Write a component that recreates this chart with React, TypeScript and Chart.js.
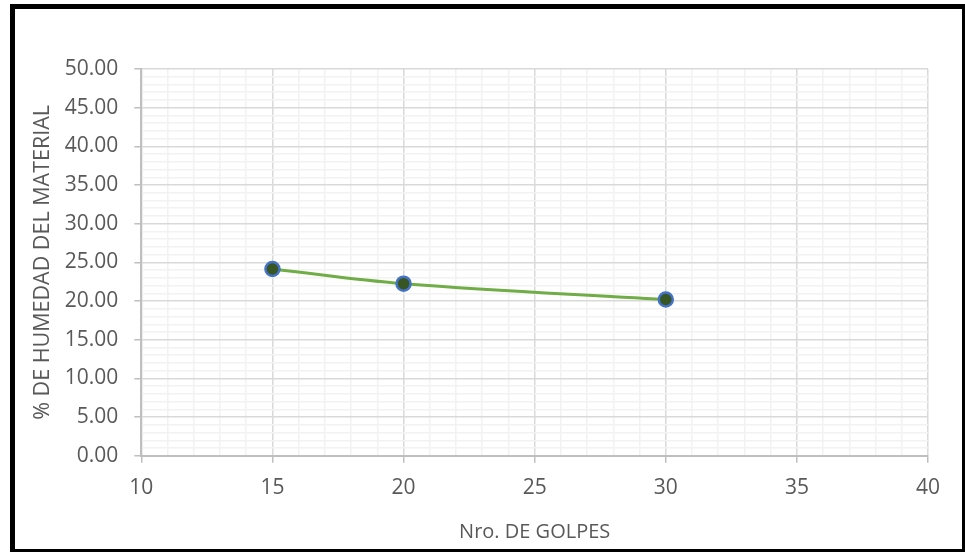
import React, { useEffect, useRef } from "react";
import { Chart, registerables } from "chart.js";

Chart.register(...registerables);

const golpes = [15, 20, 30];
const humedad = [24.15, 22.25, 20.2];
const xMin = 10;
const xMax = 40;
const yMin = 0;
const yMax = 50;
const xTitle = "Nro. DE GOLPES";
const yTitle = "% DE HUMEDAD DEL MATERIAL";

const FONT = "'Open Sans', 'Liberation Sans', sans-serif";
const TEXT = "#595959";

export default function App() {
  const ref = useRef<HTMLCanvasElement | null>(null);
  useEffect(() => {
    if (!ref.current) return;
    const major = (v: number) => Math.abs(v % 5) < 1e-9;
    const chart = new Chart(ref.current, {
      type: "line",
      data: {
        datasets: [
          {
            data: golpes.map((g, i) => ({ x: g, y: humedad[i] })),
            borderColor: "#70AD47",
            borderWidth: 3,
            tension: 0.4,
            pointRadius: 7,
            pointBorderWidth: 2.5,
            pointBackgroundColor: "#375623",
            pointBorderColor: "#4472C4",
            fill: false,
          },
        ],
      },
      options: {
        responsive: false,
        animation: false,
        events: [],
        layout: { padding: { left: 30, right: 37, top: 69, bottom: 8 } },
        plugins: { legend: { display: false }, tooltip: { enabled: false } },
        scales: {
          x: {
            type: "linear",
            min: xMin,
            max: xMax,
            ticks: {
              stepSize: 1,
              autoSkip: false,
              maxRotation: 0,
              padding: 13,
              color: TEXT,
              font: { family: FONT, size: 21 },
              callback: (v: any) => (major(Number(v)) ? String(v) : ""),
            },
            grid: {
              color: (c: any) => (major(c.tick.value) ? "#d9d9d9" : "#f2f2f2"),
              lineWidth: 1.5,
              tickLength: 7,
              tickColor: (c: any) => (major(c.tick.value) ? "#bfbfbf" : "rgba(0,0,0,0)"),
            },
            border: { color: "#bfbfbf", width: 2 },
            title: {
              display: true,
              text: xTitle,
              color: TEXT,
              font: { family: FONT, size: 20 },
              padding: { top: 6, bottom: 0 },
            },
          },
          y: {
            type: "linear",
            min: yMin,
            max: yMax,
            ticks: {
              stepSize: 1,
              autoSkip: false,
              padding: 16,
              color: TEXT,
              font: { family: FONT, size: 21 },
              callback: (v: any) => (major(Number(v)) ? Number(v).toFixed(2) : ""),
            },
            grid: {
              color: (c: any) => (major(c.tick.value) ? "#d9d9d9" : "#f2f2f2"),
              lineWidth: 1.5,
              tickLength: 7,
              tickColor: (c: any) => (major(c.tick.value) ? "#bfbfbf" : "rgba(0,0,0,0)"),
            },
            border: { color: "#bfbfbf", width: 2 },
            title: {
              display: true,
              text: yTitle,
              color: TEXT,
              font: { family: FONT, size: 21.5 },
              padding: { top: 0, bottom: -7 },
            },
          },
        },
      },
    });
    return () => chart.destroy();
  }, []);

  return (
    <div style={{ position: "fixed", left: 0, top: 0, width: 965, height: 552, background: "#fff", overflow: "hidden" }}>
      <canvas ref={ref} width={965} height={552} style={{ position: "absolute", left: 0, top: 0 }} />
      <div
        style={{
          position: "absolute",
          left: 10,
          top: 4,
          width: 957,
          height: 550,
          border: "5px solid #000",
          boxSizing: "border-box",
          pointerEvents: "none",
        }}
      />
    </div>
  );
}
